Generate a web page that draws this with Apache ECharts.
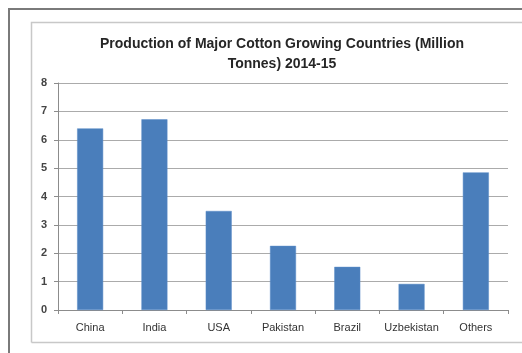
<!DOCTYPE html>
<html>
<head>
<meta charset="utf-8">
<script src="https://cdn.jsdelivr.net/npm/echarts@6/dist/echarts.min.js"></script>
<style>html,body{margin:0;padding:0;background:#fff;}#c{width:522px;height:353px;}</style>
</head>
<body>
<div id="c"></div>
<script>
const categories = ['China', 'India', 'USA', 'Pakistan', 'Brazil', 'Uzbekistan', 'Others'];
const production = [6.40, 6.72, 3.49, 2.26, 1.52, 0.92, 4.85];
const yTicks = [0, 1, 2, 3, 4, 5, 6, 7, 8];
const titleText = 'Production of Major Cotton Growing Countries (Million\nTonnes) 2014-15';

const chart = echarts.init(document.getElementById('c'), null, {renderer: 'canvas'});
chart.setOption({
  animation: false,
  backgroundColor: '#fff',
  graphic: [
    {type: 'polyline', shape: {points: [[9, 353], [9, 9], [522, 9]]}, style: {stroke: '#7a7a7a', lineWidth: 2, fill: null}, silent: true},
    {type: 'polyline', shape: {points: [[31.5, 342.5], [31.5, 22.5], [522, 22.5]]}, style: {stroke: '#c8c8c8', lineWidth: 1.5, fill: null}, silent: true},
    {type: 'line', shape: {x1: 31.5, y1: 342.5, x2: 522, y2: 342.5}, style: {stroke: '#c8c8c8', lineWidth: 1.5}, silent: true}
  ],
  title: {
    text: titleText,
    left: 277, top: 29, textAlign: 'center',
    textStyle: {fontFamily: 'Liberation Sans', fontSize: 14, fontWeight: 'bold', color: '#262626', lineHeight: 20}
  },
  grid: {left: 58, right: 14, top: 83, bottom: 43, containLabel: false},
  xAxis: {
    type: 'category',
    data: categories,
    axisLine: {lineStyle: {color: '#8c8c8c', width: 1}},
    axisTick: {show: true, length: 4, alignWithLabel: false, lineStyle: {color: '#8c8c8c'}},
    axisLabel: {interval: 0, fontFamily: 'Liberation Sans', fontSize: 11, color: '#333', margin: 12}
  },
  yAxis: {
    type: 'value',
    min: yTicks[0], max: yTicks[yTicks.length - 1], interval: 1,
    axisLine: {show: true, lineStyle: {color: '#8c8c8c', width: 1}},
    axisTick: {show: true, length: 4, lineStyle: {color: '#8c8c8c'}},
    axisLabel: {fontFamily: 'Liberation Sans', fontSize: 11, fontWeight: 'bold', color: '#444', margin: 11},
    splitLine: {lineStyle: {color: '#ababab', width: 1}}
  },
  series: [{
    type: 'bar',
    data: production,
    barWidth: 26,
    itemStyle: {color: '#4a7ebb', borderColor: '#5b8cc8', borderWidth: 0.5}
  }]
});
</script>
</body>
</html>
